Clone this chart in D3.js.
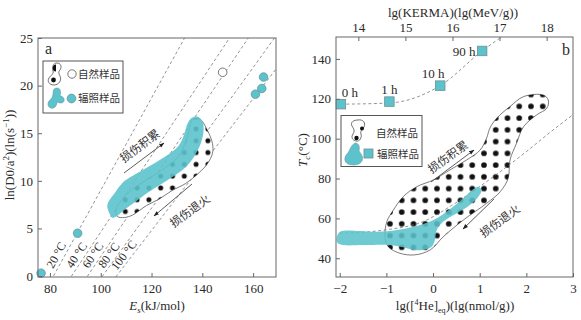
<!DOCTYPE html>
<html><head><meta charset="utf-8">
<script src="https://cdn.jsdelivr.net/npm/d3@7"></script>
<style>body{margin:0;background:#fff}</style>
</head><body>
<svg id="c" width="581" height="320"></svg>
<script>
// ================= DATA : panel a =================
const aXTicks = [80, 100, 120, 140, 160];
const aYTicks = [0, 5, 10, 15, 20, 25];
const isoTemps = [20, 40, 60, 80, 100];
const isoE0  = [81.4, 88.5, 94.8, 100.7, 106.2];   // Es where ln(D0/a2)=0
const isoE25 = [133.0, 150.7, 158.1, 168.4, 178.4]; // Es where ln(D0/a2)=25
const naturalE = [148.0];
const naturalLn = [21.4];
const irradE  = [76.5, 90.9, 160.9, 163.4, 164.1];
const irradLn = [0.3, 4.5, 19.1, 19.7, 20.9];
const irradBlobA = [[102.6,7.46],[105.8,8.82],[108.9,9.87],[111.7,10.4],[117.2,11.24],[125.1,12.5],[130.6,13.66],[133.0,15.0],[134.1,15.97],[135.7,16.6],[138.1,16.75],[140.1,16.2],[140.4,15.0],[138.2,13.2],[133.7,11.5],[125.9,10.0],[118.0,8.67],[113.7,7.8],[109.3,6.97],[105.8,6.2],[104.4,6.15],[103.4,6.6]];
const naturalRegionA = [[138.9,16.5],[142.0,15.3],[144.0,13.9],[144.0,12.9],[142.0,11.8],[138.9,10.9],[133.3,9.7],[128.2,9.0],[123.1,8.1],[118.0,7.4],[112.5,6.4],[109.3,6.15],[106.6,6.25],[106,7.0],[111,8.8],[118,10.1],[125,11.3],[131,12.7],[134.5,15.0],[136,16.4]];

// ================= DATA : panel b =================
const bXTicks = [-2, -1, 0, 1, 2, 3];
const bYTicks = [40, 60, 80, 100, 120, 140];
const kermaTicks = [14, 15, 16, 17, 18];
const sqKerma = [13.63, 14.66, 15.74, 16.63];
const sqTc = [117.3, 118.6, 126.6, 144.0];
const sqLabels = ["0 h", "1 h", "10 h", "90 h"];
const kermaTrendX = [13.63, 14.66, 15.74, 16.63, 17.1];
const kermaTrendY = [117.3, 117.9, 126.6, 144.0, 152.0];
const heTrendX = [-2.0, -1.0, -0.2, 0.4, 1.0, 1.5, 2.0, 2.5, 3.0];
const heTrendY = [52.5, 54.3, 58.5, 66.5, 76.0, 84.5, 93.5, 103.0, 112.0];
const irradBandB = [[-2.06,50.8],[-1.99,53.3],[-1.28,53.3],[-0.92,53.7],[-0.56,55.1],[-0.21,57.2],[0.08,60.1],[0.36,64.6],[0.65,70.1],[0.86,74.6],[0.97,75.9],[1.04,74.3],[0.97,70.9],[0.79,66.7],[0.51,62.6],[0.22,58.4],[0.08,54.2],[0.04,49.2],[-0.03,45.8],[-0.21,44.2],[-0.42,44.2],[-0.64,45.5],[-0.92,46.7],[-1.5,46.6],[-1.92,46.6],[-2.05,47.8]];
const naturalRegionB = [[1.94,121.1],[2.36,121.9],[2.47,119.4],[2.44,115.3],[2.22,111.9],[1.94,106.0],[1.79,97.7],[1.65,89.3],[1.61,80.1],[1.44,73.4],[1.15,67.6],[0.65,59.2],[0.22,50.8],[-0.06,44.2],[-0.39,41.7],[-0.71,42.5],[-0.96,45.8],[-1.03,50.8],[-0.99,58.4],[-0.85,64.2],[-0.64,70.9],[-0.35,75.9],[0.01,79.3],[0.36,84.3],[0.72,89.3],[1.01,94.3],[1.15,100.4],[1.22,105.4],[1.37,110.4],[1.65,116.1]];

// ================= STYLE =================
const TEAL = '#5cc3cc', TEAL_STROKE = '#5b8e94', FRAME = '#666', TXT = '#2a2a2a', DASH = '#777';
const serif = 'Liberation Serif, Times New Roman, serif';
const cjk = 'Noto Sans CJK SC, Noto Sans CJK JP, sans-serif';

const svg = d3.select('#c');
const defs = svg.append('defs');
function dotPattern(id, x0, y0, step, r) {
  const p = defs.append('pattern').attr('id', id).attr('patternUnits', 'userSpaceOnUse')
    .attr('width', step).attr('height', step).attr('x', x0 - step / 2).attr('y', y0 - step / 2);
  p.append('circle').attr('cx', step / 2).attr('cy', step / 2).attr('r', r).attr('fill', '#111');
}
dotPattern('dotsA', 125.3, 211.5, 11.8, 2.5);
dotPattern('dotsB', 390, 153.3, 11.75, 2.8);
defs.append('marker').attr('id', 'ah').attr('viewBox', '0 0 10 10').attr('refX', 9).attr('refY', 5)
  .attr('markerWidth', 7).attr('markerHeight', 7).attr('orient', 'auto-start-reverse')
  .append('path').attr('d', 'M0,1.5 L10,5 L0,8.5 Z').attr('fill', '#222');

function styleAxis(g) {
  g.attr('font-family', serif);
  g.select('.domain').remove();
  g.selectAll('line').attr('stroke', FRAME);
  g.selectAll('text').attr('font-family', serif).attr('font-size', 13).attr('fill', TXT);
}
function clip(id, x0, y0, x1, y1) {
  defs.append('clipPath').attr('id', id).append('rect').attr('x', x0).attr('y', y0).attr('width', x1 - x0).attr('height', y1 - y0);
}
const fmtInt = d => (d < 0 ? '−' + Math.abs(d) : String(d));

// ================= PANEL A =================
const A = {l: 38, r: 276, t: 38, b: 277};
const xA = d3.scaleLinear().domain([75.3, 169]).range([A.l, A.r]);
const yA = d3.scaleLinear().domain([-0.1, 25]).range([A.b, A.t]);
clip('clipA', A.l, A.t, A.r, A.b);
const gA = svg.append('g');
const plotA = gA.append('g').attr('clip-path', 'url(#clipA)');

isoTemps.forEach((t, i) => {
  const s = 25 / (isoE25[i] - isoE0[i]);
  const E = v => isoE0[i] + v / s;
  plotA.append('line').attr('x1', xA(E(-1))).attr('y1', yA(-1)).attr('x2', xA(E(30))).attr('y2', yA(30))
    .attr('stroke', DASH).attr('stroke-width', 0.8).attr('stroke-dasharray', '3,2.5');
});
const lineA = d3.line().x(d => xA(d[0])).y(d => yA(d[1])).curve(d3.curveCatmullRomClosed.alpha(0.5));
plotA.append('path').attr('d', lineA(naturalRegionA)).attr('fill', '#fff').attr('stroke', '#444').attr('stroke-width', 0.7);
plotA.append('path').attr('d', lineA(naturalRegionA)).attr('fill', 'url(#dotsA)');
plotA.append('path').attr('d', lineA(irradBlobA)).attr('fill', TEAL).attr('fill-opacity', 0.9);

isoTemps.forEach((t, i) => {
  const E = isoE0[i] + 2.2 * (isoE25[i] - isoE0[i]) / 25;
  const ang = Math.atan2(yA(25) - yA(0), xA(isoE25[i]) - xA(isoE0[i])) * 180 / Math.PI;
  const px = xA(E) - 9, py = yA(2.2);
  gA.append('text').attr('transform', `translate(${px},${py}) rotate(${ang})`)
    .attr('text-anchor', 'middle').attr('dy', '0.35em').attr('font-family', serif).attr('font-size', 12).attr('fill', TXT)
    .text(`${t} °C`);
});

gA.selectAll('.ia').data(irradE.map((e, i) => [e, irradLn[i]])).join('circle')
  .attr('cx', d => xA(d[0])).attr('cy', d => yA(d[1])).attr('r', 4.3)
  .attr('fill', TEAL).attr('stroke', TEAL_STROKE).attr('stroke-width', 0.7);
gA.selectAll('.na').data(naturalE.map((e, i) => [e, naturalLn[i]])).join('circle')
  .attr('cx', d => xA(d[0])).attr('cy', d => yA(d[1])).attr('r', 4.3)
  .attr('fill', '#fff').attr('stroke', '#555').attr('stroke-width', 0.8);

gA.append('rect').attr('x', A.l).attr('y', A.t).attr('width', A.r - A.l).attr('height', A.b - A.t)
  .attr('fill', 'none').attr('stroke', FRAME).attr('stroke-width', 1);
gA.append('g').attr('transform', `translate(0,${A.b})`)
  .call(d3.axisBottom(xA).tickValues(aXTicks).tickFormat(fmtInt).tickSizeInner(-4).tickSizeOuter(0).tickPadding(7)).call(styleAxis);
gA.append('g').attr('transform', `translate(${A.l},0)`)
  .call(d3.axisLeft(yA).tickValues(aYTicks).tickFormat(fmtInt).tickSizeInner(-4).tickSizeOuter(0).tickPadding(5)).call(styleAxis);

function arrow(g, x1, y1, x2, y2) {
  g.append('line').attr('x1', x1).attr('y1', y1).attr('x2', x2).attr('y2', y2)
    .attr('stroke', '#333').attr('stroke-width', 0.8).attr('marker-end', 'url(#ah)');
}
function note(g, x, y, ang, txt) {
  g.append('text').attr('transform', `translate(${x},${y}) rotate(${ang})`).attr('text-anchor', 'middle')
    .attr('dy', '0.35em').attr('font-family', cjk).attr('font-size', 11.5).attr('fill', '#333').text(txt);
}
arrow(gA, 124, 173, 164, 143);
note(gA, 140, 146, -37, '损伤积累');
arrow(gA, 192, 184, 154, 216);
note(gA, 190, 211, -36, '损伤退火');

gA.append('text').attr('x', 157).attr('y', 310).attr('text-anchor', 'middle').attr('font-family', serif).attr('font-size', 13).attr('fill', TXT)
  .call(t => { t.append('tspan').attr('font-style', 'italic').text('E');
               t.append('tspan').attr('font-style', 'italic').attr('font-size', 9).attr('dy', 3).text('s');
               t.append('tspan').attr('dy', -3).text('(kJ/mol)'); });
gA.append('text').attr('transform', 'translate(14,155) rotate(-90)').attr('text-anchor', 'middle').attr('font-family', serif).attr('font-size', 13).attr('fill', TXT)
  .call(t => { t.append('tspan').text('ln(D0/a');
               t.append('tspan').attr('font-size', 9).attr('dy', -5).text('2');
               t.append('tspan').attr('dy', 5).text(')(ln(s');
               t.append('tspan').attr('font-size', 9).attr('dy', -5).text('−1');
               t.append('tspan').attr('dy', 5).text('))'); });
gA.append('text').attr('x', 45).attr('y', 54).attr('font-family', serif).attr('font-size', 16).attr('fill', TXT).text('a');

const LA = gA.append('g');
LA.append('rect').attr('x', 43).attr('y', 61).attr('width', 80).attr('height', 52).attr('fill', '#fff').attr('stroke', '#555').attr('stroke-width', 1);
LA.append('path').attr('d', 'M57,63 C61,63 62,67 60,70 C58,72 59,74 60,76 C62,80 59,85 54,85 C49,85 47,81 49,78 C51,75 54,74 53,71 C52,67 53,63 57,63 Z')
  .attr('fill', '#fff').attr('stroke', '#333').attr('stroke-width', 0.7);
LA.append('path').attr('d', 'M56,64.5 A3.2,3.5 0 0 0 56,71.5 Z').attr('fill', '#111');
LA.append('circle').attr('cx', 53.5).attr('cy', 80).attr('r', 2.4).attr('fill', '#111');
LA.append('circle').attr('cx', 72).attr('cy', 74).attr('r', 4.2).attr('fill', '#fff').attr('stroke', '#555').attr('stroke-width', 0.8);
LA.append('text').attr('x', 78).attr('y', 74).attr('dy', '0.35em').attr('font-family', cjk).attr('font-size', 10.5).attr('fill', '#333').text('自然样品');
LA.append('path').attr('d', 'M57,88 C61,88 61,93 60,96 C62,96 65,98 64,101 C63,104 59,103 57,102 C57,106 54,109 51,108 C48,107 47,104 49,101 C51,99 53,97 53,94 C53,90 54,88 57,88 Z')
  .attr('fill', TEAL).attr('stroke', TEAL_STROKE).attr('stroke-width', 0.5);
LA.append('circle').attr('cx', 71.5).attr('cy', 98.5).attr('r', 4.4).attr('fill', TEAL).attr('stroke', TEAL_STROKE).attr('stroke-width', 0.7);
LA.append('text').attr('x', 78).attr('y', 98.5).attr('dy', '0.35em').attr('font-family', cjk).attr('font-size', 10.5).attr('fill', '#333').text('辐照样品');

// ================= PANEL B =================
const B = {l: 336, r: 573, t: 37, b: 277};
const xB = d3.scaleLinear().domain([-2.08, 3.0]).range([B.l, B.r]);
const yB = d3.scaleLinear().domain([30.6, 151]).range([B.b, B.t]);
const xK = d3.scaleLinear().domain([13.526, 18.56]).range([B.l, B.r]);
clip('clipB', B.l, B.t, B.r, B.b);
const gB = svg.append('g');
const plotB = gB.append('g').attr('clip-path', 'url(#clipB)');
const lineB = d3.line().x(d => xB(d[0])).y(d => yB(d[1])).curve(d3.curveCatmullRomClosed.alpha(0.5));
plotB.append('path').attr('d', lineB(naturalRegionB)).attr('fill', '#fff').attr('stroke', '#444').attr('stroke-width', 0.7);
plotB.append('path').attr('d', lineB(naturalRegionB)).attr('fill', 'url(#dotsB)');
plotB.append('path').attr('d', d3.line().x(d => xB(d[0])).y(d => yB(d[1])).curve(d3.curveMonotoneX)(heTrendX.map((x, i) => [x, heTrendY[i]])))
  .attr('fill', 'none').attr('stroke', DASH).attr('stroke-width', 0.8).attr('stroke-dasharray', '3,2.5');
plotB.append('path').attr('d', lineB(irradBandB)).attr('fill', TEAL).attr('fill-opacity', 0.88);
plotB.append('path').attr('d', d3.line().x(d => xK(d[0])).y(d => yB(d[1])).curve(d3.curveMonotoneX)(kermaTrendX.map((x, i) => [x, kermaTrendY[i]])))
  .attr('fill', 'none').attr('stroke', DASH).attr('stroke-width', 0.8).attr('stroke-dasharray', '3,2.5');

const SQ = 9.5;
gB.selectAll('.sq').data(sqKerma.map((k, i) => [k, sqTc[i]])).join('rect')
  .attr('x', d => xK(d[0]) - SQ / 2).attr('y', d => yB(d[1]) - SQ / 2).attr('width', SQ).attr('height', SQ)
  .attr('fill', TEAL).attr('stroke', '#6f8f93').attr('stroke-width', 0.8);
const labOff = [[9, -12], [0, -12], [-7, -12], [-18, 0]];
gB.selectAll('.sl').data(sqLabels).join('text')
  .attr('x', (d, i) => xK(sqKerma[i]) + labOff[i][0]).attr('y', (d, i) => yB(sqTc[i]) + labOff[i][1])
  .attr('text-anchor', 'middle').attr('dy', '0.35em').attr('font-family', serif).attr('font-size', 13).attr('fill', TXT).text(d => d);

gB.append('rect').attr('x', B.l).attr('y', B.t).attr('width', B.r - B.l).attr('height', B.b - B.t)
  .attr('fill', 'none').attr('stroke', FRAME).attr('stroke-width', 1);
gB.append('g').attr('transform', `translate(0,${B.b})`)
  .call(d3.axisBottom(xB).tickValues(bXTicks).tickFormat(fmtInt).tickSizeInner(-4).tickSizeOuter(0).tickPadding(7)).call(styleAxis);
gB.append('g').attr('transform', `translate(${B.l},0)`)
  .call(d3.axisLeft(yB).tickValues(bYTicks).tickFormat(fmtInt).tickSizeInner(-4).tickSizeOuter(0).tickPadding(5)).call(styleAxis);
gB.append('g').attr('transform', `translate(0,${B.t})`)
  .call(d3.axisTop(xK).tickValues(kermaTicks).tickFormat(fmtInt).tickSizeInner(-4).tickSizeOuter(0).tickPadding(5)).call(styleAxis);

arrow(gB, 431, 182, 474, 150);
note(gB, 448, 157, -36, '损伤积累');
arrow(gB, 494, 199, 463, 229);
note(gB, 500, 221, -36, '损伤退火');

gB.append('text').attr('x', 455).attr('y', 310).attr('text-anchor', 'middle').attr('font-family', serif).attr('font-size', 13).attr('fill', TXT)
  .call(t => { t.append('tspan').text('lg([');
               t.append('tspan').attr('font-size', 8).attr('dy', -5).text('4');
               t.append('tspan').attr('dy', 5).text('He]');
               t.append('tspan').attr('font-size', 8).attr('dy', 3).text('eq');
               t.append('tspan').attr('dy', -3).text(')(lg(nmol/g))'); });
gB.append('text').attr('x', 453).attr('y', 17).attr('text-anchor', 'middle').attr('font-family', serif).attr('font-size', 13).attr('fill', TXT)
  .text('lg(KERMA)(lg(MeV/g))');
gB.append('text').attr('transform', 'translate(307,150) rotate(-90)').attr('text-anchor', 'middle').attr('font-family', serif).attr('font-size', 13).attr('fill', TXT)
  .call(t => { t.append('tspan').attr('font-style', 'italic').text('T');
               t.append('tspan').attr('font-style', 'italic').attr('font-size', 9).attr('dy', 3).text('c');
               t.append('tspan').attr('dy', -3).text('(°C)'); });
gB.append('text').attr('x', 562).attr('y', 55).attr('font-family', serif).attr('font-size', 16).attr('fill', TXT).text('b');

const LB = gB.append('g');
LB.append('rect').attr('x', 341).attr('y', 115.5).attr('width', 81).attr('height', 51).attr('fill', '#fff').attr('stroke', '#555').attr('stroke-width', 1);
LB.append('path').attr('d', 'M358,120 C363,119 366,123 364,127 C362,130 360,131 361,134 C362,137 360,142 356,141 C352,140 351,137 353,134 C355,131 354,129 352,126 C350,122 354,120 358,120 Z')
  .attr('fill', '#fff').attr('stroke', '#333').attr('stroke-width', 0.7);
LB.append('circle').attr('cx', 362).attr('cy', 128.5).attr('r', 2).attr('fill', '#111');
LB.append('circle').attr('cx', 356.5).attr('cy', 138).attr('r', 2.2).attr('fill', '#111');
LB.append('text').attr('x', 376).attr('y', 133).attr('dy', '0.35em').attr('font-family', cjk).attr('font-size', 10.5).attr('fill', '#333').text('自然样品');
LB.append('path').attr('d', 'M355,143 C359,143 360,147 359,151 C361,154 364,157 362,161 C360,165 353,166 348,164 C344,162 344,157 347,154 C350,151 350,146 355,143 Z')
  .attr('fill', TEAL).attr('stroke', TEAL_STROKE).attr('stroke-width', 0.5);
LB.append('rect').attr('x', 364).attr('y', 149).attr('width', 9).attr('height', 9).attr('fill', TEAL).attr('stroke', '#6f8f93').attr('stroke-width', 0.8);
LB.append('text').attr('x', 377).attr('y', 154).attr('dy', '0.35em').attr('font-family', cjk).attr('font-size', 10.5).attr('fill', '#333').text('辐照样品');
</script>
</body></html>
